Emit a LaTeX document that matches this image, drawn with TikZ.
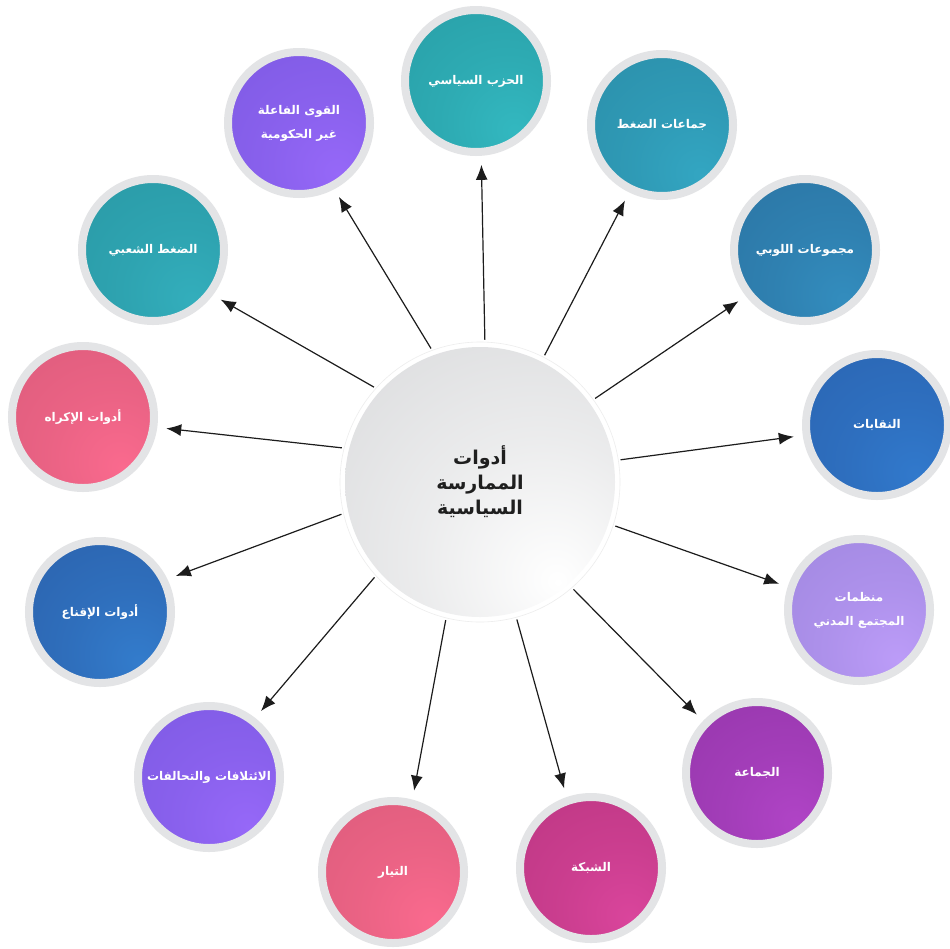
\documentclass[tikz,border=0pt]{standalone}
\usepackage{fontspec}
\newfontfamily\arabicfont[Script=Arabic]{DejaVu Sans}
\TeXXeTstate=1
\usetikzlibrary{arrows.meta}
\colorlet{cA}{black}
\colorlet{cB}{white}
\pgfdeclareradialshading[cA,cB]{blobshade}{\pgfpoint{14bp}{-18bp}}{color(0bp)=(cB); color(22bp)=(cB!55!cA); color(58bp)=(cA); color(100bp)=(cA)}
\definecolor{ringgray}{HTML}{E3E4E6}
\definecolor{linec}{HTML}{1C1C1C}
\definecolor{aA}{HTML}{279BA3}\definecolor{aB}{HTML}{33B8C0}
\definecolor{bA}{HTML}{2A8BA6}\definecolor{bB}{HTML}{33A6C2}
\definecolor{dA}{HTML}{2A71A0}\definecolor{dB}{HTML}{338DBE}
\definecolor{eA}{HTML}{2A62AE}\definecolor{eB}{HTML}{3179CC}
\definecolor{fA}{HTML}{9C84DC}\definecolor{fB}{HTML}{BC9CF8}
\definecolor{gA}{HTML}{9235A8}\definecolor{gB}{HTML}{B044C6}
\definecolor{hA}{HTML}{B8357F}\definecolor{hB}{HTML}{DA459C}
\definecolor{iA}{HTML}{D85A79}\definecolor{iB}{HTML}{FA6A8E}
\definecolor{jA}{HTML}{7A58E0}\definecolor{jB}{HTML}{9668F8}
\definecolor{kA}{HTML}{2A5EA8}\definecolor{kB}{HTML}{337CCC}
\definecolor{mA}{HTML}{2896A2}\definecolor{mB}{HTML}{33AEBC}
\definecolor{cgA}{HTML}{D3D4D6}
\tikzset{
  blob/.style 2 args={circle, minimum size=142pt, inner sep=0pt, line width=8pt,
    draw=ringgray, /utils/exec={\colorlet{cA}{#1}\colorlet{cB}{#2}},
    shade, shading=blobshade, text=white,
    font=\arabicfont\bfseries\fontsize{12}{24}\selectfont, align=center},
  link/.style={draw=linec, line width=1.2pt, -{Latex[length=15pt,width=12pt]},
    shorten >=9pt, shorten <=2pt}
}
\begin{document}
\begin{tikzpicture}[x=1pt,y=-1pt]
\fill[white] (0,0) rectangle (950,948);
\useasboundingbox (0,0) rectangle (950,948);

\node[circle, minimum size=280pt, inner sep=0pt, draw=black!7, line width=0.6pt, fill=white,
  path picture={\colorlet{cA}{cgA}\colorlet{cB}{white}
    \shade[shading=blobshade] (path picture bounding box.center) circle[radius=135pt];},
  font=\arabicfont\bfseries\fontsize{19}{25}\selectfont, text=black!88, align=center]
  (c) at (480,482) {\beginR أدوات\endR\\\beginR الممارسة\endR\\\beginR السياسية\endR};

\node[blob={aA}{aB}] (n1) at (476,81) {\beginR الحزب السياسي\endR};
\node[blob={bA}{bB}] (n2) at (662,125) {\beginR جماعات الضغط\endR};
\node[blob={dA}{dB}] (n3) at (805,250) {\beginR مجموعات اللوبي\endR};
\node[blob={eA}{eB}] (n4) at (877,425) {\beginR النقابات\endR};
\node[blob={fA}{fB}] (n5) at (859,610) {\beginR منظمات\endR\\\beginR المجتمع المدني\endR};
\node[blob={gA}{gB}] (n6) at (757,773) {\beginR الجماعة\endR};
\node[blob={hA}{hB}] (n7) at (591,868) {\beginR الشبكة\endR};
\node[blob={iA}{iB}] (n8) at (393,872) {\beginR التيار\endR};
\node[blob={jA}{jB}] (n9) at (209,777) {\beginR الائتلافات والتحالفات\endR};
\node[blob={kA}{kB}] (n10) at (100,612) {\beginR أدوات الإقناع\endR};
\node[blob={iA}{iB}] (n11) at (83,417) {\beginR أدوات الإكراه\endR};
\node[blob={mA}{mB}] (n12) at (153,250) {\beginR الضغط الشعبي\endR};
\node[blob={jA}{jB}] (n13) at (299,123) {\beginR القوى الفاعلة\endR\\\beginR غير الحكومية\endR};

\draw[link] (c.88) -- (n1.-86.6);
\draw[link] (c.63.6) -- (n2.-116);
\draw[link] (c.36) -- (n3.-142.9);
\draw[link] (c.9.7) -- (n4.-172);
\draw[link] (c.-18.4) -- (n5.162.8);
\draw[link] (c.-49.3) -- (n6.136.4);
\draw[link] (c.-75.4) -- (n7.109.7);
\draw[link] (c.-104.2) -- (n8.75);
\draw[link] (c.-138.4) -- (n9.52.5);
\draw[link] (c.-167.6) -- (n10.26.9);
\draw[link] (c.166) -- (n11.-8.9);
\draw[link] (c.138.2) -- (n12.-37.8);
\draw[link] (c.110.7) -- (n13.-62.2);
\end{tikzpicture}
\end{document}
